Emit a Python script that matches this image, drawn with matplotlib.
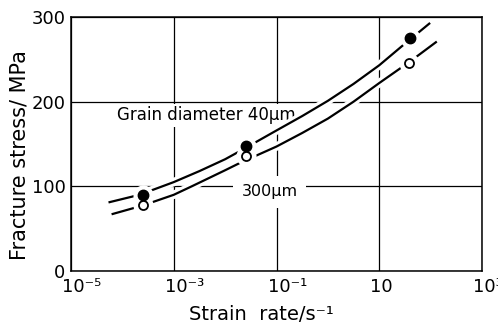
import numpy as np
import matplotlib
matplotlib.use("Agg")
import matplotlib.pyplot as plt
import matplotlib.patheffects as pe
from matplotlib.transforms import ScaledTranslation

# ---- data ----
filled_rate = [2.5e-4, 2.5e-2, 40.0]
filled_stress = [90, 148, 275]
open_rate = [2.5e-4, 2.5e-2, 38.0]
open_stress = [78, 136, 246]

# fitted curves (log10 strain rate, stress)
upper_log_rate = [-4.27, -3.8, -3.4, -3.0, -2.5, -2.0, -1.7, -1.0, -0.5, 0.0, 0.5, 1.0, 1.47, 1.99]
upper_stress = [81, 88, 96, 105, 118, 132, 142, 166, 183, 201, 221, 243, 267, 293]
lower_log_rate = [-4.21, -3.8, -3.43, -3.0, -2.65, -2.0, -1.7, -1.0, -0.5, 0.0, 0.5, 1.0, 1.4, 1.7, 2.12]
lower_stress = [67, 74, 81, 90, 100, 119, 128, 147, 163, 180, 200, 222, 239, 252, 271]

xtick_pos = [1e-5, 1e-3, 1e-1, 1e1, 1e3]
xtick_labels = ["10\u207b\u2075", "10\u207b\u00b3", "10\u207b\u00b9", "10", "10\u00b3"]
ytick_pos = [0, 100, 200, 300]
ytick_labels = ["0", "100", "200", "300"]

plt.rcParams["font.family"] = ["DejaVu Sans"]

fig = plt.figure(figsize=(4.98, 3.25), dpi=100)
ax = fig.add_axes([71 / 498, 1 - 271 / 325, 411 / 498, 254 / 325])

ax.set_xscale("log")
ax.set_xlim(1e-5, 1e3)
ax.set_ylim(0, 300)
ax.set_axisbelow(True)
ax.grid(True, which="major", color="black", lw=0.9)
ax.minorticks_off()
ax.set_xticks(xtick_pos)
ax.set_xticklabels(xtick_labels, fontsize=13, ha="left")
ax.set_yticks(ytick_pos)
ax.set_yticklabels(ytick_labels, fontsize=13)
ax.tick_params(length=0, pad=4)
ax.tick_params(axis="x", pad=5)
shift = ScaledTranslation(-9.0 / 100, 0, fig.dpi_scale_trans)
for lbl in ax.get_xticklabels():
    lbl.set_transform(lbl.get_transform() + shift)
for s in ax.spines.values():
    s.set_linewidth(1.1)

halo = [pe.Stroke(linewidth=6, foreground="white"), pe.Normal()]
ax.plot(np.power(10.0, upper_log_rate), upper_stress, color="black", lw=1.6,
        zorder=2, path_effects=halo, solid_capstyle="butt")
ax.plot(np.power(10.0, lower_log_rate), lower_stress, color="black", lw=1.6,
        zorder=2, path_effects=halo, solid_capstyle="butt")

# white gaps around markers
ax.plot(filled_rate, filled_stress, "o", ms=14.5, color="white", mec="none", zorder=3)
ax.plot(open_rate, open_stress, "o", ms=14.5, color="white", mec="none", zorder=3)
ax.plot(filled_rate, filled_stress, "o", ms=7.5, color="black", zorder=4)
ax.plot(open_rate, open_stress, "o", ms=6.5, mfc="white", mec="black", mew=1.3, zorder=4)

ax.text(10 ** -4.11, 178, "Grain diameter 40\u03bcm", fontsize=12, ha="left", va="baseline",
        bbox=dict(boxstyle="square,pad=0.15", fc="white", ec="none"), zorder=1)
ax.text(10 ** -1.68, 88, "300\u03bcm", fontsize=11.5, ha="left", va="baseline",
        bbox=dict(boxstyle="square,pad=0.55", fc="white", ec="none"), zorder=1)

ax.set_ylabel("Fracture stress/ MPa", fontsize=15)
ax.yaxis.set_label_coords(-0.102, 0.457)
ax.set_xlabel("Strain  rate/s\u207b\u00b9", fontsize=14)
ax.xaxis.set_label_coords(0.462, -0.135)

fig.savefig("out.png", dpi=100)
